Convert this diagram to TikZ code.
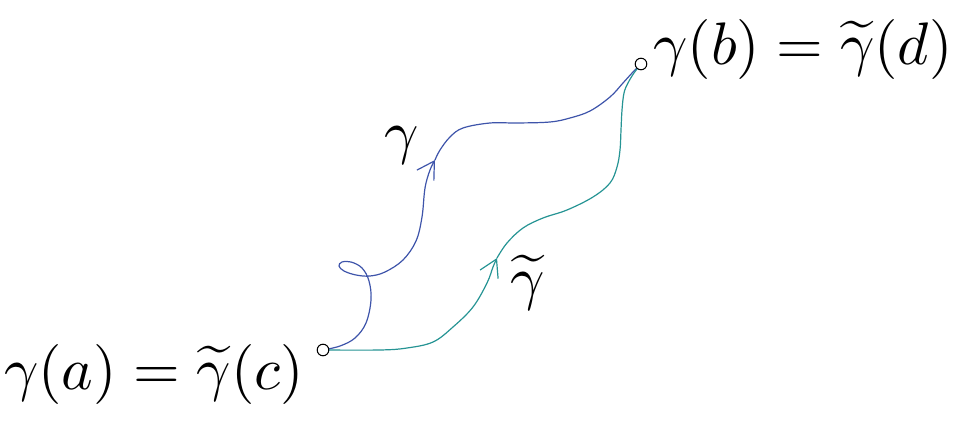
\documentclass[tikz,border=0pt]{standalone}
\usetikzlibrary{arrows.meta}
\definecolor{gblue}{RGB}{62,84,170}
\definecolor{gteal}{RGB}{38,148,148}
\tikzset{
  pt/.style={circle,draw=black,fill=white,minimum size=5.8pt,inner sep=0pt,line width=0.5pt},
  curve/.style={line width=0.6pt,line cap=round},
  midarrow/.style={-{Straight Barb[length=8.5pt,width=10pt]}},
  lbl/.style={inner sep=0pt,scale=3}
}
\begin{document}
\begin{tikzpicture}[x=0.5pt,y=-0.5pt]
\useasboundingbox (0,0) rectangle (959,422);
\coordinate (pa) at (323,350);
\coordinate (pb) at (641,64);
\coordinate (ta) at (435,160);
\coordinate (tb) at (497,258);
% gamma
\draw[curve,gblue,midarrow] plot[smooth,tension=0.6] coordinates {(pa) (340,346) (355,338) (366,323) (371,300) (369,281) (362,268) (351,262) (342,262) (339,266) (344,271) (356,275) (370,276) (385,272) (403,260) (416,241) (422,217) (425,188) (430,170) (ta)};
\draw[curve,gblue] plot[smooth,tension=0.6] coordinates {(ta) (440,150) (450,137) (463,128) (490,123) (517,123) (550,122) (570,118) (590,111) (610,97) (623,83) (633,72) (pb)};
% gamma tilde
\draw[curve,gteal,midarrow] plot[smooth,tension=0.6] coordinates {(pa) (380,350) (407,348) (433,342) (453,327) (473,307) (487,283) (493,267) (tb)};
\draw[curve,gteal] plot[smooth,tension=0.6] coordinates {(tb) (507,243) (523,228) (543,218) (567,210) (593,197) (610,183) (617,167) (620,150) (621,130) (622,110) (624,93) (628,83) (634,73) (pb)};
\node[pt] (a) at (pa) {};
\node[pt] (b) at (pb) {};
\node[lbl] (lg) at (402,145) {$\gamma$};
\node[lbl] (lgt) at (528,283) {$\widetilde{\gamma}$};
\node[lbl] (lb) at (803,50) {$\gamma(b)=\widetilde{\gamma}(d)$};
\node[lbl] (la) at (154,375) {$\gamma(a)=\widetilde{\gamma}(c)$};
\end{tikzpicture}
\end{document}
